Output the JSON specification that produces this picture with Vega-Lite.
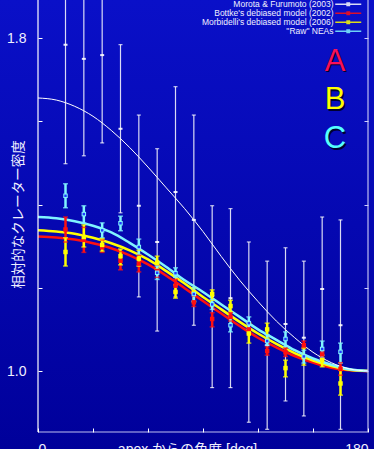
{
  "$schema": "https://vega.github.io/schema/vega-lite/v6.json",
  "width": 374,
  "height": 449,
  "autosize": "none",
  "padding": 0,
  "background": "#0000b0",
  "config": {"view": {"stroke": null}, "font": "Liberation Sans"},
  "datasets": {
    "fits": [
      {"series": "Morota & Furumoto (2003)", "deg": 0, "val": 1.656}, {"series": "Morota & Furumoto (2003)", "deg": 10, "val": 1.651}, {"series": "Morota & Furumoto (2003)", "deg": 20, "val": 1.636}, {"series": "Morota & Furumoto (2003)", "deg": 30, "val": 1.612}, {"series": "Morota & Furumoto (2003)", "deg": 40, "val": 1.578}, {"series": "Morota & Furumoto (2003)", "deg": 50, "val": 1.537}, {"series": "Morota & Furumoto (2003)", "deg": 60, "val": 1.49}, {"series": "Morota & Furumoto (2003)", "deg": 70, "val": 1.44}, {"series": "Morota & Furumoto (2003)", "deg": 80, "val": 1.39}, {"series": "Morota & Furumoto (2003)", "deg": 90, "val": 1.335}, {"series": "Morota & Furumoto (2003)", "deg": 100, "val": 1.275}, {"series": "Morota & Furumoto (2003)", "deg": 110, "val": 1.218}, {"series": "Morota & Furumoto (2003)", "deg": 120, "val": 1.167}, {"series": "Morota & Furumoto (2003)", "deg": 130, "val": 1.12}, {"series": "Morota & Furumoto (2003)", "deg": 140, "val": 1.08}, {"series": "Morota & Furumoto (2003)", "deg": 150, "val": 1.045}, {"series": "Morota & Furumoto (2003)", "deg": 160, "val": 1.02}, {"series": "Morota & Furumoto (2003)", "deg": 170, "val": 1.005}, {"series": "Morota & Furumoto (2003)", "deg": 180, "val": 1.0},
      {"series": "Bottke's debiased model (2002)", "deg": 0, "val": 1.323}, {"series": "Bottke's debiased model (2002)", "deg": 10, "val": 1.321}, {"series": "Bottke's debiased model (2002)", "deg": 20, "val": 1.316}, {"series": "Bottke's debiased model (2002)", "deg": 30, "val": 1.307}, {"series": "Bottke's debiased model (2002)", "deg": 40, "val": 1.295}, {"series": "Bottke's debiased model (2002)", "deg": 50, "val": 1.278}, {"series": "Bottke's debiased model (2002)", "deg": 60, "val": 1.256}, {"series": "Bottke's debiased model (2002)", "deg": 70, "val": 1.229}, {"series": "Bottke's debiased model (2002)", "deg": 80, "val": 1.199}, {"series": "Bottke's debiased model (2002)", "deg": 90, "val": 1.168}, {"series": "Bottke's debiased model (2002)", "deg": 100, "val": 1.138}, {"series": "Bottke's debiased model (2002)", "deg": 110, "val": 1.108}, {"series": "Bottke's debiased model (2002)", "deg": 120, "val": 1.08}, {"series": "Bottke's debiased model (2002)", "deg": 130, "val": 1.057}, {"series": "Bottke's debiased model (2002)", "deg": 140, "val": 1.036}, {"series": "Bottke's debiased model (2002)", "deg": 150, "val": 1.02}, {"series": "Bottke's debiased model (2002)", "deg": 160, "val": 1.008}, {"series": "Bottke's debiased model (2002)", "deg": 170, "val": 1.002}, {"series": "Bottke's debiased model (2002)", "deg": 180, "val": 1.0},
      {"series": "Morbidelli's debiased model (2006)", "deg": 0, "val": 1.338}, {"series": "Morbidelli's debiased model (2006)", "deg": 10, "val": 1.335}, {"series": "Morbidelli's debiased model (2006)", "deg": 20, "val": 1.33}, {"series": "Morbidelli's debiased model (2006)", "deg": 30, "val": 1.32}, {"series": "Morbidelli's debiased model (2006)", "deg": 40, "val": 1.307}, {"series": "Morbidelli's debiased model (2006)", "deg": 50, "val": 1.29}, {"series": "Morbidelli's debiased model (2006)", "deg": 60, "val": 1.268}, {"series": "Morbidelli's debiased model (2006)", "deg": 70, "val": 1.24}, {"series": "Morbidelli's debiased model (2006)", "deg": 80, "val": 1.21}, {"series": "Morbidelli's debiased model (2006)", "deg": 90, "val": 1.178}, {"series": "Morbidelli's debiased model (2006)", "deg": 100, "val": 1.148}, {"series": "Morbidelli's debiased model (2006)", "deg": 110, "val": 1.118}, {"series": "Morbidelli's debiased model (2006)", "deg": 120, "val": 1.09}, {"series": "Morbidelli's debiased model (2006)", "deg": 130, "val": 1.065}, {"series": "Morbidelli's debiased model (2006)", "deg": 140, "val": 1.043}, {"series": "Morbidelli's debiased model (2006)", "deg": 150, "val": 1.025}, {"series": "Morbidelli's debiased model (2006)", "deg": 160, "val": 1.012}, {"series": "Morbidelli's debiased model (2006)", "deg": 170, "val": 1.003}, {"series": "Morbidelli's debiased model (2006)", "deg": 180, "val": 1.0},
      {"series": "\"Raw\" NEAs", "deg": 0, "val": 1.37}, {"series": "\"Raw\" NEAs", "deg": 10, "val": 1.367}, {"series": "\"Raw\" NEAs", "deg": 20, "val": 1.36}, {"series": "\"Raw\" NEAs", "deg": 30, "val": 1.349}, {"series": "\"Raw\" NEAs", "deg": 40, "val": 1.333}, {"series": "\"Raw\" NEAs", "deg": 50, "val": 1.308}, {"series": "\"Raw\" NEAs", "deg": 60, "val": 1.28}, {"series": "\"Raw\" NEAs", "deg": 70, "val": 1.25}, {"series": "\"Raw\" NEAs", "deg": 80, "val": 1.218}, {"series": "\"Raw\" NEAs", "deg": 90, "val": 1.19}, {"series": "\"Raw\" NEAs", "deg": 100, "val": 1.16}, {"series": "\"Raw\" NEAs", "deg": 110, "val": 1.13}, {"series": "\"Raw\" NEAs", "deg": 120, "val": 1.1}, {"series": "\"Raw\" NEAs", "deg": 130, "val": 1.075}, {"series": "\"Raw\" NEAs", "deg": 140, "val": 1.05}, {"series": "\"Raw\" NEAs", "deg": 150, "val": 1.03}, {"series": "\"Raw\" NEAs", "deg": 160, "val": 1.015}, {"series": "\"Raw\" NEAs", "deg": 170, "val": 1.004}, {"series": "\"Raw\" NEAs", "deg": 180, "val": 1.0}
    ],
    "obs": [
      {"series": "Morota & Furumoto (2003)", "deg": 15, "val": 1.784, "lo": 1.498, "hi": 2.07},
      {"series": "Morota & Furumoto (2003)", "deg": 25, "val": 1.75, "lo": 1.517, "hi": 1.983},
      {"series": "Morota & Furumoto (2003)", "deg": 35, "val": 1.759, "lo": 1.548, "hi": 1.97},
      {"series": "Morota & Furumoto (2003)", "deg": 45, "val": 1.582, "lo": 1.38, "hi": 1.784},
      {"series": "Morota & Furumoto (2003)", "deg": 55, "val": 1.397, "lo": 1.178, "hi": 1.615},
      {"series": "Morota & Furumoto (2003)", "deg": 65, "val": 1.31, "lo": 1.096, "hi": 1.534},
      {"series": "Morota & Furumoto (2003)", "deg": 75, "val": 1.43, "lo": 1.178, "hi": 1.683},
      {"series": "Morota & Furumoto (2003)", "deg": 85, "val": 1.363, "lo": 1.11, "hi": 1.615},
      {"series": "Morota & Furumoto (2003)", "deg": 95, "val": 1.18, "lo": 0.96, "hi": 1.397},
      {"series": "Morota & Furumoto (2003)", "deg": 105, "val": 1.175, "lo": 0.96, "hi": 1.39},
      {"series": "Morota & Furumoto (2003)", "deg": 115, "val": 1.096, "lo": 0.877, "hi": 1.31},
      {"series": "Morota & Furumoto (2003)", "deg": 125, "val": 1.062, "lo": 0.86, "hi": 1.264},
      {"series": "Morota & Furumoto (2003)", "deg": 135, "val": 1.113, "lo": 0.928, "hi": 1.296},
      {"series": "Morota & Furumoto (2003)", "deg": 145, "val": 1.08, "lo": 0.892, "hi": 1.264},
      {"series": "Morota & Furumoto (2003)", "deg": 155, "val": 1.197, "lo": 1.024, "hi": 1.37},
      {"series": "Morota & Furumoto (2003)", "deg": 165, "val": 1.11, "lo": 0.86, "hi": 1.363},
      {"series": "Bottke's debiased model (2002)", "deg": 15, "val": 1.34, "lo": 1.31, "hi": 1.37},
      {"series": "Bottke's debiased model (2002)", "deg": 25, "val": 1.315, "lo": 1.285, "hi": 1.345},
      {"series": "Bottke's debiased model (2002)", "deg": 35, "val": 1.297, "lo": 1.285, "hi": 1.315},
      {"series": "Bottke's debiased model (2002)", "deg": 45, "val": 1.265, "lo": 1.243, "hi": 1.287},
      {"series": "Bottke's debiased model (2002)", "deg": 55, "val": 1.258, "lo": 1.238, "hi": 1.278},
      {"series": "Bottke's debiased model (2002)", "deg": 65, "val": 1.24, "lo": 1.225, "hi": 1.255},
      {"series": "Bottke's debiased model (2002)", "deg": 75, "val": 1.205, "lo": 1.19, "hi": 1.22},
      {"series": "Bottke's debiased model (2002)", "deg": 85, "val": 1.165, "lo": 1.155, "hi": 1.18},
      {"series": "Bottke's debiased model (2002)", "deg": 95, "val": 1.125, "lo": 1.106, "hi": 1.14},
      {"series": "Bottke's debiased model (2002)", "deg": 105, "val": 1.13, "lo": 1.12, "hi": 1.14},
      {"series": "Bottke's debiased model (2002)", "deg": 115, "val": 1.1, "lo": 1.09, "hi": 1.115},
      {"series": "Bottke's debiased model (2002)", "deg": 125, "val": 1.048, "lo": 1.038, "hi": 1.058},
      {"series": "Bottke's debiased model (2002)", "deg": 135, "val": 1.045, "lo": 1.035, "hi": 1.055},
      {"series": "Bottke's debiased model (2002)", "deg": 145, "val": 1.062, "lo": 1.055, "hi": 1.072},
      {"series": "Bottke's debiased model (2002)", "deg": 155, "val": 1.04, "lo": 1.032, "hi": 1.048},
      {"series": "Bottke's debiased model (2002)", "deg": 165, "val": 1.005, "lo": 0.99, "hi": 1.02},
      {"series": "Morbidelli's debiased model (2006)", "deg": 15, "val": 1.286, "lo": 1.252, "hi": 1.32},
      {"series": "Morbidelli's debiased model (2006)", "deg": 25, "val": 1.322, "lo": 1.298, "hi": 1.351},
      {"series": "Morbidelli's debiased model (2006)", "deg": 35, "val": 1.303, "lo": 1.288, "hi": 1.318},
      {"series": "Morbidelli's debiased model (2006)", "deg": 45, "val": 1.276, "lo": 1.255, "hi": 1.293},
      {"series": "Morbidelli's debiased model (2006)", "deg": 55, "val": 1.27, "lo": 1.252, "hi": 1.29},
      {"series": "Morbidelli's debiased model (2006)", "deg": 65, "val": 1.26, "lo": 1.245, "hi": 1.276},
      {"series": "Morbidelli's debiased model (2006)", "deg": 75, "val": 1.19, "lo": 1.175, "hi": 1.207},
      {"series": "Morbidelli's debiased model (2006)", "deg": 85, "val": 1.19, "lo": 1.166, "hi": 1.2},
      {"series": "Morbidelli's debiased model (2006)", "deg": 95, "val": 1.185, "lo": 1.17, "hi": 1.195},
      {"series": "Morbidelli's debiased model (2006)", "deg": 105, "val": 1.156, "lo": 1.142, "hi": 1.17},
      {"series": "Morbidelli's debiased model (2006)", "deg": 115, "val": 1.09, "lo": 1.067, "hi": 1.115},
      {"series": "Morbidelli's debiased model (2006)", "deg": 125, "val": 1.1, "lo": 1.079, "hi": 1.115},
      {"series": "Morbidelli's debiased model (2006)", "deg": 135, "val": 1.007, "lo": 0.986, "hi": 1.026},
      {"series": "Morbidelli's debiased model (2006)", "deg": 145, "val": 1.034, "lo": 1.014, "hi": 1.055},
      {"series": "Morbidelli's debiased model (2006)", "deg": 155, "val": 1.026, "lo": 1.01, "hi": 1.038},
      {"series": "Morbidelli's debiased model (2006)", "deg": 165, "val": 0.97, "lo": 0.942, "hi": 1.002},
      {"series": "\"Raw\" NEAs", "deg": 15, "val": 1.421, "lo": 1.392, "hi": 1.45},
      {"series": "\"Raw\" NEAs", "deg": 25, "val": 1.377, "lo": 1.355, "hi": 1.397},
      {"series": "\"Raw\" NEAs", "deg": 35, "val": 1.338, "lo": 1.32, "hi": 1.356},
      {"series": "\"Raw\" NEAs", "deg": 45, "val": 1.355, "lo": 1.337, "hi": 1.372},
      {"series": "\"Raw\" NEAs", "deg": 55, "val": 1.298, "lo": 1.28, "hi": 1.317},
      {"series": "\"Raw\" NEAs", "deg": 65, "val": 1.236, "lo": 1.22, "hi": 1.252},
      {"series": "\"Raw\" NEAs", "deg": 75, "val": 1.235, "lo": 1.225, "hi": 1.248},
      {"series": "\"Raw\" NEAs", "deg": 85, "val": 1.185, "lo": 1.168, "hi": 1.2},
      {"series": "\"Raw\" NEAs", "deg": 95, "val": 1.16, "lo": 1.148, "hi": 1.172},
      {"series": "\"Raw\" NEAs", "deg": 105, "val": 1.11, "lo": 1.094, "hi": 1.13},
      {"series": "\"Raw\" NEAs", "deg": 115, "val": 1.115, "lo": 1.1, "hi": 1.13},
      {"series": "\"Raw\" NEAs", "deg": 125, "val": 1.072, "lo": 1.062, "hi": 1.087},
      {"series": "\"Raw\" NEAs", "deg": 135, "val": 1.077, "lo": 1.058, "hi": 1.094},
      {"series": "\"Raw\" NEAs", "deg": 145, "val": 1.035, "lo": 1.019, "hi": 1.05},
      {"series": "\"Raw\" NEAs", "deg": 155, "val": 1.053, "lo": 1.031, "hi": 1.072},
      {"series": "\"Raw\" NEAs", "deg": 165, "val": 1.046, "lo": 1.019, "hi": 1.067}
    ],
    "letters": [
      {"label": "A", "deg": 162, "val": 1.743},
      {"label": "B", "deg": 162, "val": 1.65},
      {"label": "C", "deg": 162, "val": 1.557}
    ],
    "frame": [
      {"part": "left", "x0": 0, "x1": 0, "y0": 0.8534, "y1": 1.8914},
      {"part": "right", "x0": 180, "x1": 180, "y0": 0.8534, "y1": 1.8914},
      {"part": "bottom", "x0": 0, "x1": 180, "y0": 0.8534, "y1": 0.8534}
    ],
    "bg": [
      {"x0": -20.73, "x1": 183.27, "y0": 0.8126, "y1": 1.8914}
    ]
  },
  "resolve": {"axis": {"y": "independent", "x": "independent"}},
  "encoding": {
    "x": {"field": "deg", "type": "quantitative", "scale": {"domain": [-20.73, 183.27], "nice": false, "zero": false}, "axis": null},
    "y": {"field": "val", "type": "quantitative", "scale": {"domain": [0.8126, 1.8914], "nice": false, "zero": false}, "axis": null}
  },
  "layer": [
    {
      "data": {"name": "bg"},
      "mark": {"type": "rect", "fill": {"x1": 0, "y1": 0, "x2": 0, "y2": 1, "gradient": "linear", "stops": [{"offset": 0, "color": "#0a10c8"}, {"offset": 1, "color": "#00009a"}]}},
      "encoding": {
        "x": {"field": "x0", "type": "quantitative", "scale": {"domain": [-20.73, 183.27], "nice": false, "zero": false},
          "axis": {"orient": "bottom", "offset": -17, "zindex": 1, "values": [0, 30, 60, 90, 120, 150, 180], "labelExpr": "datum.value == 0 || datum.value == 180 ? datum.label : ''", "labelFlush": 40, "domain": false, "grid": false, "tickSize": -4, "tickColor": "#ffffff", "labelColor": "#f0f0ff", "labelFont": "Liberation Sans", "labelFontSize": 14, "labelPadding": 14, "title": "apex からの角度 [deg]", "titleFont": "Liberation Sans, Noto Sans CJK JP", "titleFontSize": 14, "titleFontWeight": "normal", "titleColor": "#f0f0ff", "titleBaseline": "top", "titleY": 10}},
        "x2": {"field": "x1"},
        "y": {"field": "y1", "type": "quantitative", "scale": {"domain": [0.8126, 1.8914], "nice": false, "zero": false},
          "axis": {"orient": "left", "offset": -38, "zindex": 1, "values": [1, 1.2, 1.4, 1.6, 1.8], "labelExpr": "datum.value == 1 || datum.value == 1.8 ? format(datum.value, '.1f') : ''", "domain": false, "grid": false, "tickSize": -4, "tickColor": "#ffffff", "labelColor": "#f0f0ff", "labelFont": "Liberation Sans", "labelFontSize": 14, "labelPadding": 16, "title": "相対的なクレーター密度", "titleFont": "Noto Sans CJK JP", "titleFontSize": 13.5, "titleFontWeight": "normal", "titleColor": "#f0f0ff", "titleX": -20, "titleY": 214, "titleBaseline": "middle"}},
        "y2": {"field": "y0"}
      }
    },
    {
      "data": {"values": [{}]},
      "mark": {"type": "rule", "color": "#e0e0ff", "strokeWidth": 1, "strokeDash": [1, 2], "opacity": 0.9},
      "encoding": {
        "x": {"datum": 0, "type": "quantitative", "scale": {"domain": [-20.73, 183.27], "nice": false, "zero": false}, "axis": null},
        "x2": {"datum": 180},
        "y": {"datum": 1, "type": "quantitative", "scale": {"domain": [0.8126, 1.8914], "nice": false, "zero": false},
          "axis": {"orient": "right", "offset": -6, "zindex": 1, "values": [1, 1.2, 1.4, 1.6, 1.8], "labels": false, "domain": false, "grid": false, "tickSize": -4, "tickColor": "#d0d0ff", "title": null}}
      }
    },
    {
      "data": {"name": "obs"},
      "transform": [{"filter": "datum.series == 'Morota & Furumoto (2003)'"}],
      "mark": {"type": "rule", "strokeWidth": 1.2, "opacity": 0.85},
      "encoding": {
        "y": {"field": "lo", "type": "quantitative", "axis": null},
        "y2": {"field": "hi"},
        "color": {"field": "series", "type": "nominal", "scale": {"domain": ["Morota & Furumoto (2003)", "Bottke's debiased model (2002)", "Morbidelli's debiased model (2006)", "\"Raw\" NEAs"], "range": ["#ffffff", "#ff1010", "#ffff00", "#80f4ff"]},
          "legend": {"orient": "none", "legendX": 344, "legendY": 0, "title": null, "symbolType": "M-6.5,0H6.5M-0.6,-0.6H0.6V0.6H-0.6Z", "symbolSize": 16, "symbolStrokeWidth": 1.5, "labelAlign": "right", "labelOffset": -19, "labelFontSize": 8.5, "labelColor": "#f0f0ff", "labelFont": "Liberation Sans", "rowPadding": -2.5, "padding": 0, "labelLimit": 300}}
      }
    },
    {
      "data": {"name": "obs"},
      "transform": [{"filter": "datum.series == 'Morota & Furumoto (2003)'"}],
      "mark": {"type": "tick", "orient": "horizontal", "size": 4, "thickness": 1, "color": "#ffffff", "opacity": 0.9},
      "encoding": {"y": {"field": "lo", "type": "quantitative", "axis": null}}
    },
    {
      "data": {"name": "obs"},
      "transform": [{"filter": "datum.series == 'Morota & Furumoto (2003)'"}],
      "mark": {"type": "tick", "orient": "horizontal", "size": 4, "thickness": 1, "color": "#ffffff", "opacity": 0.9},
      "encoding": {"y": {"field": "hi", "type": "quantitative", "axis": null}}
    },
    {
      "data": {"name": "obs"},
      "transform": [{"filter": "datum.series == 'Morota & Furumoto (2003)'"}],
      "mark": {"type": "tick", "orient": "horizontal", "size": 4, "thickness": 2, "color": "#ffffff", "opacity": 0.9},
      "encoding": {}
    },
    {
      "data": {"name": "fits"},
      "mark": {"type": "line", "interpolate": "monotone", "strokeWidth": 2.5},
      "transform": [{"filter": "datum.series != 'Morota & Furumoto (2003)'"}],
      "encoding": {
        "detail": {"field": "series"},
        "color": {"field": "series", "type": "nominal", "scale": {"domain": ["Morota & Furumoto (2003)", "Bottke's debiased model (2002)", "Morbidelli's debiased model (2006)", "\"Raw\" NEAs"], "range": ["#ffffff", "#ff1010", "#ffff00", "#80f4ff"]},
          "legend": {"orient": "none", "legendX": 344, "legendY": 0, "title": null, "symbolType": "M-6.5,0H6.5M-0.6,-0.6H0.6V0.6H-0.6Z", "symbolSize": 16, "symbolStrokeWidth": 1.5, "labelAlign": "right", "labelOffset": -19, "labelFontSize": 8.5, "labelColor": "#f0f0ff", "labelFont": "Liberation Sans", "rowPadding": -2.5, "padding": 0, "labelLimit": 300}}
      }
    },
    {
      "data": {"name": "fits"},
      "mark": {"type": "line", "interpolate": "monotone", "strokeWidth": 1, "color": "#ffffff"},
      "transform": [{"filter": "datum.series == 'Morota & Furumoto (2003)'"}],
      "encoding": {}
    },
    {
      "data": {"name": "obs"},
      "transform": [{"filter": "datum.series != 'Morota & Furumoto (2003)'"}],
      "mark": {"type": "rule", "strokeWidth": 2.5},
      "encoding": {
        "y": {"field": "lo", "type": "quantitative", "axis": null},
        "y2": {"field": "hi"},
        "color": {"field": "series", "type": "nominal", "scale": {"domain": ["Morota & Furumoto (2003)", "Bottke's debiased model (2002)", "Morbidelli's debiased model (2006)", "\"Raw\" NEAs"], "range": ["#ffffff", "#ff1010", "#ffff00", "#80f4ff"]},
          "legend": {"orient": "none", "legendX": 344, "legendY": 0, "title": null, "symbolType": "M-6.5,0H6.5M-0.6,-0.6H0.6V0.6H-0.6Z", "symbolSize": 16, "symbolStrokeWidth": 1.5, "labelAlign": "right", "labelOffset": -19, "labelFontSize": 8.5, "labelColor": "#f0f0ff", "labelFont": "Liberation Sans", "rowPadding": -2.5, "padding": 0, "labelLimit": 300}}
      }
    },
    {
      "data": {"name": "obs"},
      "transform": [{"filter": "datum.series != 'Morota & Furumoto (2003)'"}],
      "mark": {"type": "tick", "orient": "horizontal", "size": 5, "thickness": 1.5},
      "encoding": {
        "y": {"field": "lo", "type": "quantitative", "axis": null},
        "color": {"field": "series", "type": "nominal", "scale": {"domain": ["Morota & Furumoto (2003)", "Bottke's debiased model (2002)", "Morbidelli's debiased model (2006)", "\"Raw\" NEAs"], "range": ["#ffffff", "#ff1010", "#ffff00", "#80f4ff"]},
          "legend": {"orient": "none", "legendX": 344, "legendY": 0, "title": null, "symbolType": "M-6.5,0H6.5M-0.6,-0.6H0.6V0.6H-0.6Z", "symbolSize": 16, "symbolStrokeWidth": 1.5, "labelAlign": "right", "labelOffset": -19, "labelFontSize": 8.5, "labelColor": "#f0f0ff", "labelFont": "Liberation Sans", "rowPadding": -2.5, "padding": 0, "labelLimit": 300}}
      }
    },
    {
      "data": {"name": "obs"},
      "transform": [{"filter": "datum.series != 'Morota & Furumoto (2003)'"}],
      "mark": {"type": "tick", "orient": "horizontal", "size": 5, "thickness": 1.5},
      "encoding": {
        "y": {"field": "hi", "type": "quantitative", "axis": null},
        "color": {"field": "series", "type": "nominal", "scale": {"domain": ["Morota & Furumoto (2003)", "Bottke's debiased model (2002)", "Morbidelli's debiased model (2006)", "\"Raw\" NEAs"], "range": ["#ffffff", "#ff1010", "#ffff00", "#80f4ff"]},
          "legend": {"orient": "none", "legendX": 344, "legendY": 0, "title": null, "symbolType": "M-6.5,0H6.5M-0.6,-0.6H0.6V0.6H-0.6Z", "symbolSize": 16, "symbolStrokeWidth": 1.5, "labelAlign": "right", "labelOffset": -19, "labelFontSize": 8.5, "labelColor": "#f0f0ff", "labelFont": "Liberation Sans", "rowPadding": -2.5, "padding": 0, "labelLimit": 300}}
      }
    },
    {
      "data": {"name": "obs"},
      "transform": [{"filter": "datum.series != 'Morota & Furumoto (2003)'"}],
      "mark": {"type": "square", "size": 20, "opacity": 1},
      "encoding": {
        "color": {"field": "series", "type": "nominal", "scale": {"domain": ["Morota & Furumoto (2003)", "Bottke's debiased model (2002)", "Morbidelli's debiased model (2006)", "\"Raw\" NEAs"], "range": ["#ffffff", "#ff1010", "#ffff00", "#80f4ff"]},
          "legend": {"orient": "none", "legendX": 344, "legendY": 0, "title": null, "symbolType": "M-6.5,0H6.5M-0.6,-0.6H0.6V0.6H-0.6Z", "symbolSize": 16, "symbolStrokeWidth": 1.5, "labelAlign": "right", "labelOffset": -19, "labelFontSize": 8.5, "labelColor": "#f0f0ff", "labelFont": "Liberation Sans", "rowPadding": -2.5, "padding": 0, "labelLimit": 300}}
      }
    },
    {
      "data": {"name": "obs"},
      "transform": [{"filter": "datum.series == '\"Raw\" NEAs'"}],
      "mark": {"type": "square", "size": 6, "color": "#2038ff", "opacity": 1},
      "encoding": {}
    },
    {
      "data": {"name": "frame"},
      "mark": {"type": "rule", "strokeWidth": 1.2},
      "encoding": {
        "x": {"field": "x0", "type": "quantitative", "scale": {"domain": [-20.73, 183.27], "nice": false, "zero": false}, "axis": null},
        "x2": {"field": "x1"},
        "y": {"field": "y0", "type": "quantitative", "scale": {"domain": [0.8126, 1.8914], "nice": false, "zero": false}, "axis": null},
        "y2": {"field": "y1"},
        "color": {"condition": {"test": "datum.part == 'left'", "value": "#ffffff"}, "value": "#c0c0f0"}
      }
    },
    {
      "data": {"name": "letters"},
      "mark": {"type": "text", "font": "Liberation Sans", "fontSize": 31, "align": "center", "baseline": "middle", "dx": 1.5, "dy": 1.5, "color": "#000030"},
      "encoding": {"text": {"field": "label"}}
    },
    {
      "data": {"name": "letters"},
      "mark": {"type": "text", "font": "Liberation Sans", "fontSize": 31, "align": "center", "baseline": "middle"},
      "encoding": {
        "text": {"field": "label"},
        "color": {"condition": [{"test": "datum.label == 'A'", "value": "#f8105c"}, {"test": "datum.label == 'B'", "value": "#ffff00"}], "value": "#55ffff"}
      }
    }
  ]
}
